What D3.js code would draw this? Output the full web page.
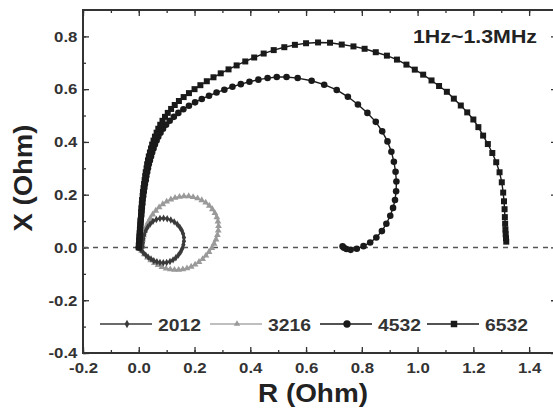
<!DOCTYPE html>
<html><head><meta charset="utf-8">
<script src="https://cdn.jsdelivr.net/npm/d3@7/dist/d3.min.js"></script>
<style>body{margin:0;background:#fff}svg{display:block}</style>
</head><body>
<svg id="c" width="553" height="408"></svg>
<script>
// ---- data ----
const seriesNames = ["2012","3216","4532","6532"];
const xTickValues = [-0.2,0,0.2,0.4,0.6,0.8,1.0,1.2,1.4];
const xTickLabels = ["-0.2","0.0","0.2","0.4","0.6","0.8","1.0","1.2","1.4"];
const yTickValues = [-0.4,-0.2,0,0.2,0.4,0.6,0.8];
const yTickLabels = ["-0.4","-0.2","0.0","0.2","0.4","0.6","0.8"];
const s2012 = [[0.000,0.000],[0.008,-0.010],[0.016,-0.020],[0.025,-0.029],[0.034,-0.037],[0.044,-0.044],[0.054,-0.050],[0.065,-0.054],[0.076,-0.057],[0.088,-0.058],[0.100,-0.057],[0.112,-0.053],[0.123,-0.047],[0.133,-0.039],[0.142,-0.029],[0.150,-0.017],[0.156,-0.004],[0.160,0.010],[0.162,0.024],[0.162,0.038],[0.159,0.052],[0.154,0.065],[0.147,0.077],[0.138,0.088],[0.127,0.097],[0.115,0.104],[0.102,0.109],[0.089,0.111],[0.076,0.110],[0.063,0.106],[0.051,0.099],[0.041,0.089],[0.032,0.077],[0.025,0.063],[0.020,0.048],[0.017,0.033],[0.015,0.018],[0.014,0.004]];
const s3216 = [[0.000,0.000],[0.010,-0.013],[0.020,-0.026],[0.031,-0.038],[0.043,-0.049],[0.056,-0.059],[0.069,-0.067],[0.083,-0.074],[0.098,-0.080],[0.113,-0.083],[0.128,-0.085],[0.143,-0.085],[0.158,-0.083],[0.173,-0.079],[0.188,-0.073],[0.202,-0.065],[0.216,-0.055],[0.229,-0.044],[0.241,-0.031],[0.252,-0.017],[0.262,-0.002],[0.270,0.014],[0.277,0.030],[0.282,0.047],[0.285,0.064],[0.286,0.081],[0.284,0.098],[0.280,0.114],[0.273,0.130],[0.264,0.145],[0.253,0.158],[0.240,0.170],[0.226,0.179],[0.211,0.186],[0.195,0.191],[0.179,0.194],[0.162,0.194],[0.146,0.192],[0.130,0.188],[0.115,0.182],[0.100,0.174],[0.086,0.164],[0.073,0.152],[0.061,0.139],[0.050,0.125],[0.041,0.110],[0.033,0.094],[0.026,0.078],[0.021,0.062],[0.017,0.046],[0.014,0.030],[0.012,0.015],[0.011,0.002]];
const s4532 = [[0.000,0.000],[0.001,0.015],[0.002,0.030],[0.003,0.045],[0.004,0.060],[0.005,0.075],[0.006,0.090],[0.007,0.105],[0.009,0.120],[0.010,0.135],[0.011,0.150],[0.013,0.165],[0.014,0.180],[0.016,0.195],[0.018,0.210],[0.020,0.225],[0.022,0.240],[0.025,0.255],[0.027,0.270],[0.030,0.285],[0.033,0.300],[0.036,0.315],[0.040,0.330],[0.044,0.345],[0.048,0.360],[0.053,0.375],[0.058,0.390],[0.064,0.405],[0.070,0.420],[0.078,0.435],[0.087,0.450],[0.098,0.465],[0.111,0.480],[0.126,0.495],[0.142,0.510],[0.160,0.524],[0.180,0.537],[0.202,0.550],[0.226,0.563],[0.252,0.575],[0.279,0.587],[0.307,0.598],[0.336,0.609],[0.366,0.619],[0.397,0.628],[0.429,0.636],[0.462,0.642],[0.495,0.646],[0.530,0.646],[0.570,0.642],[0.620,0.632],[0.665,0.617],[0.710,0.597],[0.750,0.571],[0.786,0.542],[0.820,0.510],[0.850,0.476],[0.873,0.440],[0.892,0.402],[0.906,0.363],[0.915,0.325],[0.921,0.287],[0.924,0.250],[0.923,0.213],[0.919,0.180],[0.912,0.150],[0.902,0.120],[0.888,0.090],[0.872,0.062],[0.852,0.038],[0.830,0.019],[0.806,0.005],[0.782,-0.005],[0.760,-0.009],[0.745,-0.006],[0.736,-0.001],[0.731,0.004]];
const s6532 = [[0.000,0.000],[0.001,0.015],[0.002,0.030],[0.003,0.045],[0.004,0.060],[0.005,0.075],[0.006,0.090],[0.007,0.105],[0.008,0.120],[0.009,0.135],[0.010,0.150],[0.011,0.165],[0.012,0.180],[0.014,0.195],[0.015,0.210],[0.017,0.225],[0.019,0.240],[0.021,0.255],[0.023,0.270],[0.025,0.285],[0.028,0.300],[0.030,0.315],[0.033,0.330],[0.036,0.345],[0.040,0.360],[0.044,0.375],[0.048,0.390],[0.053,0.405],[0.058,0.420],[0.064,0.435],[0.070,0.450],[0.077,0.465],[0.085,0.480],[0.094,0.495],[0.104,0.510],[0.116,0.525],[0.129,0.540],[0.144,0.555],[0.161,0.570],[0.180,0.585],[0.200,0.600],[0.221,0.615],[0.244,0.630],[0.268,0.645],[0.294,0.660],[0.322,0.675],[0.351,0.690],[0.382,0.705],[0.414,0.720],[0.448,0.735],[0.484,0.748],[0.522,0.759],[0.560,0.768],[0.600,0.774],[0.643,0.777],[0.686,0.776],[0.728,0.769],[0.770,0.762],[0.810,0.753],[0.850,0.740],[0.890,0.727],[0.926,0.712],[0.960,0.693],[0.990,0.674],[1.020,0.655],[1.050,0.633],[1.077,0.612],[1.105,0.590],[1.130,0.564],[1.155,0.538],[1.178,0.512],[1.200,0.485],[1.218,0.456],[1.235,0.424],[1.252,0.392],[1.268,0.358],[1.282,0.323],[1.294,0.285],[1.302,0.247],[1.307,0.208],[1.310,0.175],[1.312,0.145],[1.313,0.115],[1.314,0.090],[1.315,0.068],[1.316,0.050],[1.317,0.035],[1.318,0.022]];
const seriesData = [s2012, s3216, s4532, s6532];
const annotation = "1Hz~1.3MHz";

// ---- layout / style ----
const W = 553, H = 408;
const L = 83, R = 557, T = 10, B = 353;
const FONT = "'Liberation Sans', Arial, sans-serif";
const colors = {"2012":"#3a3a3a","3216":"#9a9a9a","4532":"#1a1a1a","6532":"#1a1a1a"};
const lineW = {"2012":2.2,"3216":1.6,"4532":1.4,"6532":1.4};
const symbols = {"2012":d3.symbolDiamond,"3216":d3.symbolTriangle,"4532":d3.symbolCircle,"6532":d3.symbolSquare};
const symSize = {"2012":16,"3216":20,"4532":34,"6532":36};
const legSize = {"2012":20,"3216":18,"4532":42,"6532":42};

const svg = d3.select("#c");
svg.append("rect").attr("width",W).attr("height",H).attr("fill","#fff");

const x = d3.scaleLinear().domain([-0.2,1.5]).range([L,R]);
const y = d3.scaleLinear().domain([-0.4,0.9]).range([B,T]);

const minorX = d3.range(-2,15).map(i=>i/10);
const minorY = d3.range(-4,9).map(i=>i/10);

function styleAxis(g){
  g.select(".domain").remove();
  g.selectAll("line").attr("stroke","#333").attr("stroke-width",1.3);
}
// minor ticks
svg.append("g").attr("transform",`translate(0,${B})`).call(d3.axisBottom(x).tickValues(minorX).tickSize(-3).tickFormat("")).call(styleAxis);
svg.append("g").attr("transform",`translate(0,${T})`).call(d3.axisTop(x).tickValues(minorX).tickSize(-3).tickFormat("")).call(styleAxis);
svg.append("g").attr("transform",`translate(${L},0)`).call(d3.axisLeft(y).tickValues(minorY).tickSize(-3).tickFormat("")).call(styleAxis);
svg.append("g").attr("transform",`translate(${R},0)`).call(d3.axisRight(y).tickValues(minorY).tickSize(-3).tickFormat("")).call(styleAxis);
// major ticks
const xAx = svg.append("g").attr("transform",`translate(0,${B})`)
  .call(d3.axisBottom(x).tickValues(xTickValues).tickSize(-6).tickPadding(9).tickFormat((d,i)=>xTickLabels[i])).call(styleAxis);
const yAx = svg.append("g").attr("transform",`translate(${L},0)`)
  .call(d3.axisLeft(y).tickValues(yTickValues).tickSize(-6).tickPadding(5).tickFormat((d,i)=>yTickLabels[i])).call(styleAxis);
svg.append("g").attr("transform",`translate(0,${T})`).call(d3.axisTop(x).tickValues(xTickValues).tickSize(-6).tickFormat("")).call(styleAxis);
svg.append("g").attr("transform",`translate(${R},0)`).call(d3.axisRight(y).tickValues(yTickValues).tickSize(-6).tickFormat("")).call(styleAxis);
[xAx,yAx].forEach(g=>g.selectAll("text").attr("font-family",FONT).attr("font-weight","bold")
  .attr("font-size",15).attr("fill","#333").attr("transform","scale(1.12,1)"));

// frame
svg.append("rect").attr("x",L).attr("y",T).attr("width",R-L).attr("height",B-T)
  .attr("fill","none").attr("stroke","#333").attr("stroke-width",2);

// zero dashed line
svg.append("line").attr("x1",x(-0.2)).attr("x2",x(1.5)).attr("y1",y(0)).attr("y2",y(0))
  .attr("stroke","#555").attr("stroke-width",1.4).attr("stroke-dasharray","5,5");

// series
const line = d3.line().x(d=>x(d[0])).y(d=>y(d[1]));
const order = [1,0,2,3];
order.forEach(i=>{
  const name = seriesNames[i], data = seriesData[i];
  const g = svg.append("g");
  g.append("path").attr("d",line(data)).attr("fill","none").attr("stroke",colors[name]).attr("stroke-width",lineW[name]);
  g.selectAll("path.m").data(data).join("path").attr("class","m")
    .attr("transform",d=>`translate(${x(d[0])},${y(d[1])})`)
    .attr("d",d3.symbol().type(symbols[name]).size(symSize[name]))
    .attr("fill",colors[name]);
});

// legend
const legX = [100,210,320,427];
const legY = 324;
const leg = svg.append("g");
seriesNames.forEach((name,i)=>{
  const x0 = legX[i];
  leg.append("line").attr("x1",x0).attr("x2",x0+52).attr("y1",legY).attr("y2",legY)
    .attr("stroke",name==="3216"?"#aaa":colors[name]).attr("stroke-width",1.5);
  leg.append("path").attr("transform",`translate(${x0+27},${legY})`)
    .attr("d",d3.symbol().type(symbols[name]).size(legSize[name])).attr("fill",colors[name]);
  leg.append("text").attr("x",x0+58).attr("y",legY+6.5).text(name)
    .attr("font-family",FONT).attr("font-weight","bold").attr("font-size",17).attr("fill","#333")
    .attr("textLength",43).attr("lengthAdjust","spacingAndGlyphs");
});

// annotation
svg.append("text").attr("x",413).attr("y",43).text(annotation)
  .attr("font-family",FONT).attr("font-weight","bold").attr("font-size",18).attr("fill","#222")
  .attr("textLength",124).attr("lengthAdjust","spacingAndGlyphs");

// axis titles
svg.append("text").attr("x",313).attr("y",402).attr("text-anchor","middle").text("R (Ohm)")
  .attr("font-family",FONT).attr("font-weight","bold").attr("font-size",25).attr("fill","#222")
  .attr("textLength",110).attr("lengthAdjust","spacingAndGlyphs");
svg.append("text").attr("transform","translate(32,178) rotate(-90)").attr("text-anchor","middle").text("X (Ohm)")
  .attr("font-family",FONT).attr("font-weight","bold").attr("font-size",25).attr("fill","#222")
  .attr("textLength",107).attr("lengthAdjust","spacingAndGlyphs");
</script>
</body></html>
